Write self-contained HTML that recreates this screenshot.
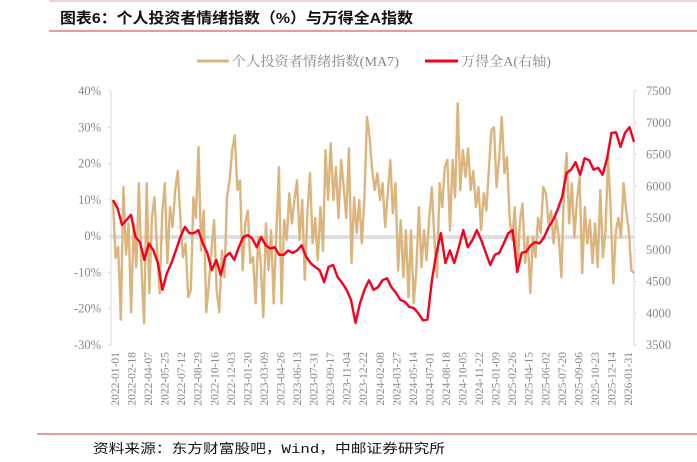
<!DOCTYPE html>
<html><head><meta charset="utf-8"><style>
body{margin:0;background:#fff;width:697px;height:462px;overflow:hidden;font-family:"Liberation Serif","Noto Serif CJK SC",serif}
svg{display:block}
</style></head><body>
<svg id="chart" width="697" height="462" xmlns="http://www.w3.org/2000/svg">
<line x1="49" y1="1" x2="697" y2="1" stroke="#f2c4c4" stroke-width="1.5"/>
<text x="60" y="23" font-family="'Liberation Sans','Noto Sans CJK SC',sans-serif" font-weight="bold" font-size="15" fill="#111" textLength="353" lengthAdjust="spacingAndGlyphs">图表6：个人投资者情绪指数（%）与万得全A指数</text>
<line x1="49" y1="31" x2="697" y2="31" stroke="#e07a7a" stroke-width="1.5"/>
<g font-family="'Liberation Serif','Noto Serif CJK SC',serif" font-size="13.5" fill="#888">
<g><line x1="197" y1="61" x2="229" y2="61" stroke="#dcb57e" stroke-width="3"/><text x="232" y="66" textLength="167" lengthAdjust="spacingAndGlyphs">个人投资者情绪指数(MA7)</text></g>
<g><line x1="425" y1="61" x2="458" y2="61" stroke="#f5001e" stroke-width="3"/><text x="461" y="66" textLength="90" lengthAdjust="spacingAndGlyphs">万得全A(右轴)</text></g>
</g>
<g id="axes"></g>
<g id="marks"></g>
<line x1="37" y1="434" x2="697" y2="434" stroke="#e07a7a" stroke-width="1.5"/>
<text x="93" y="453" font-family="'Liberation Mono','Noto Sans CJK SC',monospace" font-size="13" fill="#111" textLength="352" lengthAdjust="spacingAndGlyphs">资料来源：东方财富股吧，Wind，中邮证券研究所</text>
</svg>
<script>
const xLabels=["2022-01-01","2022-02-18","2022-04-07","2022-05-25","2022-07-12","2022-08-29","2022-10-16","2022-12-03","2023-01-20","2023-03-09","2023-04-26","2023-06-13","2023-07-31","2023-09-17","2023-11-04","2023-12-22","2024-02-08","2024-03-27","2024-05-14","2024-07-01","2024-08-18","2024-10-05","2024-11-22","2025-01-09","2025-02-26","2025-04-15","2025-06-02","2025-07-20","2025-09-06","2025-10-23","2025-12-14","2026-01-31"];
const leftTicks=[40,30,20,10,0,-10,-20,-30];
const rightTicks=[7500,7000,6500,6000,5500,5000,4500,4000,3500];
const sentiment=[10,-6,-3,-23,13.5,-5,3.5,-21,3.5,-8.5,14.6,-9,-24,14.6,-15.7,5,10.7,-4,-15.7,6.3,14.6,-7.4,8,2.5,12.7,18,5,-5.8,-2,-16.8,-14.9,10.7,5,24.5,-4,7,-21,-13,-4,4.4,-15,-21,-4,-11.3,10.7,15.4,23.7,27.8,12.7,15.4,-9.4,3.5,7,-7.4,-5.8,-18.5,-0.3,-7.4,-22.3,3.5,-9.4,1.6,
-18.5,0.8,19,-18.5,4.4,-1,11.8,3.5,10,15.4,-1,10,-12,6.3,17.4,-2,5,-6.6,8,-4,23.7,10,25.6,10,19,5,21,13.5,5,24.2,-7.4,10.7,0.8,10,-2,10.7,32.8,27.3,18,12.7,17.4,10,14.6,2.5,11.8,21,6.3,14.6,-9.4,4.4,-11.3,1.6,-16.8,1.6,-18.5,-9.4,8,-8.5,1.6,-6.6,5,13.5,-1,-11.3,14.6,8,19,21,
1.6,21,10.7,36.6,12.7,23.7,16.3,24.2,12.7,18,8,13.5,1.6,11.8,7,18,29.2,30,13.5,21.8,32.8,17.4,21.8,5,-1,8,-9.4,4.4,9,-7.4,-0.3,-15.7,-0.3,-5.8,5,0.8,13.5,11.8,3.5,7,-2,5,-0.3,-11.3,13.5,22.9,3.5,14.6,-0.3,10,16.3,-10.2,8,-2,4.4,-7.4,3.5,-8.5,12.7,-5.8,1.6,21.8,7,-13,1.6,5,-0.3,14.6,7,1.6,-9.4,-10.2];
const windA=[5784,5657,5390,5470,5550,5200,5120,4840,5100,4990,4790,4370,4630,4790,4990,5200,5360,5260,5260,5310,5100,4950,4680,4840,4600,4890,4950,4840,5040,5200,5230,5180,5040,5200,5070,5020,5040,4920,
4920,4990,4950,4990,5070,4890,4790,4730,4680,4490,4730,4760,4570,4480,4370,4210,3850,4160,4370,4520,4370,4410,4520,4550,4410,4320,4210,4180,4100,4080,4000,3890,3900,4520,4950,5260,4790,4990,
4790,5040,5310,5040,5150,5310,5150,4950,4760,4920,4950,5100,5260,5310,4650,4950,4970,5070,5120,5100,5200,5360,5470,5630,5830,6210,6260,6380,6180,6440,6410,6260,6290,6180,6440,6840,6850,6620,6840,6930,6700];

const NS="http://www.w3.org/2000/svg";
const X0=111,X1=634,Y0=91,Y1=345;
const yL=v=>Y0+(40-v)/70*(Y1-Y0);
const yR=v=>Y0+(7500-v)/4000*(Y1-Y0);
const labX=i=>115+i*(628-115)/(xLabels.length-1);
const serX=(i,n)=>113+i*(634-113)/(n-1);
const axes=document.getElementById('axes'),marks=document.getElementById('marks');
function mk(tag,attrs,parent){const e=document.createElementNS(NS,tag);for(const k in attrs)e.setAttribute(k,attrs[k]);parent.appendChild(e);return e;}
const band=mk('line',{x1:X0,x2:X1,y1:yL(0)+1,y2:yL(0)+1,stroke:'#dedede','stroke-width':4},axes);


const la=mk('line',{x1:X0,x2:X0,y1:Y0,y2:Y1,stroke:'#d9d9d9','stroke-width':1},axes);


const ra=mk('line',{x1:X1,x2:X1,y1:Y0,y2:Y1,stroke:'#d9d9d9','stroke-width':1},axes);


leftTicks.forEach(v=>{
  mk('line',{x1:X0-3,x2:X0,y1:yL(v),y2:yL(v),stroke:'#d9d9d9'},axes);
  const t=mk('text',{x:X0-10,y:yL(v)+4,'text-anchor':'end','font-size':12.5,fill:'#888'},axes);
  t.textContent=v+'%';
  
  
});
rightTicks.forEach(v=>{
  mk('line',{x1:X1,x2:X1+3,y1:yR(v),y2:yR(v),stroke:'#d9d9d9'},axes);
  const t=mk('text',{x:X1+12,y:yR(v)+4,'font-size':12.5,fill:'#888'},axes);
  t.textContent=v;
  
  
});
xLabels.forEach((d,i)=>{
  const x=labX(i);
  const t=mk('text',{x:0,y:0,'text-anchor':'end','font-size':11.5,fill:'#888',transform:`translate(${x+4},${Y1+7}) rotate(-90)`},axes);
  t.textContent=d;
  
  
});
const ps=sentiment.map((v,i)=>serX(i,sentiment.length).toFixed(1)+','+yL(v).toFixed(1)).join(' ');
const p1=mk('polyline',{points:ps,fill:'none',stroke:'#dcb57e','stroke-width':2.4,'stroke-linejoin':'round'},marks);


const pr=windA.map((v,i)=>serX(i,windA.length).toFixed(1)+','+yR(v).toFixed(1)).join(' ');
const p2=mk('polyline',{points:pr,fill:'none',stroke:'#f5001e','stroke-width':2.4,'stroke-linejoin':'round'},marks);


</script>
</body></html>
